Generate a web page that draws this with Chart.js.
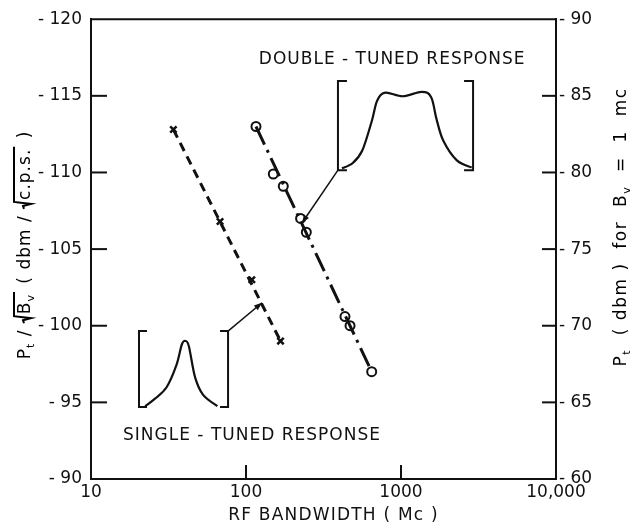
<!DOCTYPE html>
<html>
<head>
<meta charset="utf-8">
<script src="https://cdn.jsdelivr.net/npm/chart.js@4.4.0/dist/chart.umd.min.js"></script>
<style>
  body { margin: 0; background: #fff; }
  #wrap { width: 630px; height: 530px; }
</style>
</head>
<body>
<div id="wrap"><canvas id="myChart" width="630" height="530"></canvas></div>
<script>
// single-tuned receiver, measured points (x markers)
var singleBw = [34, 68, 109, 167];
var singleP = [-112.8, -106.8, -103.0, -99.0];

// double-tuned receiver, measured points (circles)
var doubleBw = [116, 150, 174, 225, 245, 435, 469, 647];
var doubleP = [-113.0, -109.9, -109.1, -107.0, -106.1, -100.6, -100.0, -97.0];

var xTicks = [10, 100, 1000, 10000];
var xTickLabels = ['10', '100', '1000', '10,000'];
var leftTicks = [-120, -115, -110, -105, -100, -95, -90];
var rightTicks = [-90, -85, -80, -75, -70, -65, -60];

var ink = '#111';
var fam = '"DejaVu Sans", sans-serif';

function pts(xs, ys) {
  return xs.map(function (x, i) { return {x: x, y: ys[i]}; });
}
// straight line drawn from first to last measured point
function ends(xs, ys) {
  var n = xs.length - 1;
  return [{x: xs[0], y: ys[0]}, {x: xs[n], y: ys[n]}];
}

// little response sketches, u/v are fractions of the bracket box
var insets = [
  {
    box: {x0: 20.4, x1: 76.6, top: -99.65, bottom: -94.7},
    curve: [[0.07, 0.01], [0.18, 0.11], [0.31, 0.26], [0.42, 0.55], [0.48, 0.82], [0.52, 0.87],
            [0.56, 0.8], [0.63, 0.39], [0.72, 0.16], [0.88, 0.01]],
    leaderFrom: 'rightTop', leaderTo: {x: 126.8, y: -101.5}
  },
  {
    box: {x0: 392, x1: 2917, top: -115.96, bottom: -110.15},
    curve: [[0.03, 0.02], [0.11, 0.08], [0.18, 0.22], [0.25, 0.55], [0.29, 0.78], [0.35, 0.87],
            [0.48, 0.83], [0.62, 0.88], [0.69, 0.82], [0.73, 0.57], [0.78, 0.33], [0.88, 0.11], [0.99, 0.03]],
    leaderFrom: 'leftBottom', leaderTo: {x: 229.7, y: -106.7}
  }
];

var captions = [
  {text: 'DOUBLE - TUNED RESPONSE', x: 121, y: -117.1},
  {text: 'SINGLE - TUNED RESPONSE', x: 16.1, y: -92.54}
];

var leftTitle = [
  {t: 'P'}, {t: 't', sub: true}, {t: ' / '},
  {rad: [{t: 'B'}, {t: 'v', sub: true}]},
  {t: ' ( dbm / '},
  {rad: [{t: 'c.p.s.'}]},
  {t: ' )'}
];
var rightTitle = [
  {t: 'P'}, {t: 't', sub: true}, {t: '  ( dbm )  for  B'}, {t: 'v', sub: true}, {t: '  =  1  mc'}
];

function smoothPath(ctx, p) {
  ctx.moveTo(p[0][0], p[0][1]);
  for (var i = 0; i < p.length - 1; i++) {
    var a = p[i - 1] || p[i], b = p[i], c = p[i + 1], d = p[i + 2] || c;
    ctx.bezierCurveTo(b[0] + (c[0] - a[0]) / 6, b[1] + (c[1] - a[1]) / 6,
                      c[0] - (d[0] - b[0]) / 6, c[1] - (d[1] - b[1]) / 6, c[0], c[1]);
  }
}

function line(ctx, x0, y0, x1, y1) {
  ctx.beginPath();
  ctx.moveTo(x0, y0);
  ctx.lineTo(x1, y1);
  ctx.stroke();
}

function arrow(ctx, x0, y0, x1, y1) {
  line(ctx, x0, y0, x1, y1);
  var ang = Math.atan2(y1 - y0, x1 - x0);
  ctx.beginPath();
  ctx.moveTo(x1, y1);
  ctx.lineTo(x1 - 8 * Math.cos(ang) + 3 * Math.sin(ang), y1 - 8 * Math.sin(ang) - 3 * Math.cos(ang));
  ctx.lineTo(x1 - 8 * Math.cos(ang) - 3 * Math.sin(ang), y1 - 8 * Math.sin(ang) + 3 * Math.cos(ang));
  ctx.closePath();
  ctx.fill();
}

// text with subscripts and radicals, returns end x
function rich(ctx, parts, x, y, draw) {
  var cx = x;
  parts.forEach(function (p) {
    if (p.rad) {
      var x0 = cx;
      cx = rich(ctx, p.rad, cx + 9, y, draw) + 2;
      if (draw) {
        var top = y - 16;
        ctx.lineWidth = 2;
        ctx.beginPath();
        ctx.moveTo(x0, y - 6);
        ctx.lineTo(x0 + 3, y - 7);
        ctx.lineTo(x0 + 5, y + 1);
        ctx.lineTo(x0 + 7, top);
        ctx.lineTo(cx, top);
        ctx.stroke();
      }
      cx += 2;
    } else {
      ctx.font = (p.sub ? '11px ' : '17px ') + fam;
      if (draw) ctx.fillText(p.t, cx, y + (p.sub ? 4 : 0));
      cx += ctx.measureText(p.t).width;
    }
  });
  return cx;
}

function verticalTitle(ctx, parts, baseX, midY, spacing) {
  ctx.save();
  ctx.letterSpacing = spacing + 'px';
  ctx.textAlign = 'left';
  ctx.textBaseline = 'alphabetic';
  var w = rich(ctx, parts, 0, 0, false);
  ctx.translate(baseX, midY);
  ctx.rotate(-Math.PI / 2);
  rich(ctx, parts, -w / 2, 0, true);
  ctx.restore();
}

var extras = {
  id: 'extras',
  afterDraw: function (chart) {
    var ctx = chart.ctx, area = chart.chartArea;
    var sx = chart.scales.x, sy = chart.scales.y, sy2 = chart.scales.y2;
    ctx.save();
    ctx.strokeStyle = ink;
    ctx.fillStyle = ink;
    ctx.lineWidth = 2;

    // top frame edge
    line(ctx, area.left, area.top, area.right, area.top);

    // inward tick marks
    leftTicks.slice(1, -1).forEach(function (v) {
      var py = sy.getPixelForValue(v);
      line(ctx, area.left, py, area.left + 16, py);
    });
    rightTicks.slice(1, -1).forEach(function (v) {
      var py = sy2.getPixelForValue(v);
      line(ctx, area.right - 14, py, area.right, py);
    });
    xTicks.slice(1, -1).forEach(function (v) {
      var px = sx.getPixelForValue(v);
      line(ctx, px, area.bottom, px, area.bottom - 14);
    });

    // bracketed response sketches with leaders
    insets.forEach(function (ins) {
      var b = ins.box;
      var L = sx.getPixelForValue(b.x0), R = sx.getPixelForValue(b.x1);
      var T = sy.getPixelForValue(b.top), B = sy.getPixelForValue(b.bottom);
      var serif = Math.min(9, (R - L) * 0.09);
      ctx.lineWidth = 2;
      ctx.beginPath();
      ctx.moveTo(L + serif, T); ctx.lineTo(L, T); ctx.lineTo(L, B); ctx.lineTo(L + serif, B);
      ctx.moveTo(R - serif, T); ctx.lineTo(R, T); ctx.lineTo(R, B); ctx.lineTo(R - serif, B);
      ctx.stroke();

      var p = ins.curve.map(function (c) {
        return [L + c[0] * (R - L), B - c[1] * (B - T)];
      });
      ctx.lineWidth = 2.2;
      ctx.beginPath();
      smoothPath(ctx, p);
      ctx.stroke();

      var fx = ins.leaderFrom === 'rightTop' ? R : L;
      var fy = ins.leaderFrom === 'rightTop' ? T : B;
      ctx.lineWidth = 1.5;
      arrow(ctx, fx, fy, sx.getPixelForValue(ins.leaderTo.x), sy.getPixelForValue(ins.leaderTo.y));
    });

    // captions
    ctx.font = '17px ' + fam;
    ctx.letterSpacing = '1px';
    ctx.textAlign = 'left';
    ctx.textBaseline = 'alphabetic';
    captions.forEach(function (c) {
      ctx.fillText(c.text, sx.getPixelForValue(c.x), sy.getPixelForValue(c.y));
    });

    // x axis title
    ctx.textAlign = 'center';
    ctx.letterSpacing = '1.2px';
    ctx.fillText('RF BANDWIDTH ( Mc )', (area.left + area.right) / 2 + 10, 520);
    ctx.letterSpacing = '0px';
    ctx.restore();

    verticalTitle(ctx, leftTitle, 30, 245, 1);
    verticalTitle(ctx, rightTitle, 626, 227, 1.5);
  }
};

new Chart(document.getElementById('myChart'), {
  type: 'scatter',
  data: {
    datasets: [
      {
        data: ends(singleBw, singleP),
        showLine: true,
        borderColor: ink,
        borderWidth: 3,
        borderDash: [9, 6],
        pointRadius: 0
      },
      {
        data: pts(singleBw, singleP),
        pointStyle: 'crossRot',
        pointRadius: 4.5,
        borderColor: ink,
        borderWidth: 2.5
      },
      {
        data: ends(doubleBw, doubleP),
        showLine: true,
        borderColor: ink,
        borderWidth: 3,
        borderDash: [20, 6, 3, 6],
        pointRadius: 0
      },
      {
        data: pts(doubleBw, doubleP),
        pointStyle: 'circle',
        pointRadius: 4.5,
        backgroundColor: '#fff',
        borderColor: ink,
        borderWidth: 2
      }
    ]
  },
  options: {
    responsive: false,
    animation: false,
    events: [],
    layout: { padding: { top: 19, left: 0, right: 0, bottom: 0 } },
    plugins: {
      legend: { display: false },
      tooltip: { enabled: false }
    },
    scales: {
      x: {
        type: 'logarithmic',
        min: 10,
        max: 10000,
        afterBuildTicks: function (scale) {
          scale.ticks = xTicks.map(function (v) { return {value: v}; });
        },
        afterFit: function (scale) { scale.height = 51; },
        grid: { display: false, drawTicks: false },
        border: { display: true, color: ink, width: 2 },
        ticks: {
          color: ink,
          padding: 3,
          maxRotation: 0,
          autoSkip: false,
          font: { family: fam, size: 17 },
          callback: function (v) {
            var i = xTicks.indexOf(v);
            return i < 0 ? '' : xTickLabels[i];
          }
        }
      },
      y: {
        position: 'left',
        min: -120,
        max: -90,
        reverse: true,
        afterBuildTicks: function (scale) {
          scale.ticks = leftTicks.map(function (v) { return {value: v}; });
        },
        afterFit: function (scale) { scale.width = 91; },
        grid: { display: false, drawTicks: false },
        border: { display: true, color: ink, width: 2 },
        ticks: {
          color: ink,
          padding: 9,
          font: { family: fam, size: 17 },
          callback: function (v) { return '- ' + Math.abs(v); }
        }
      },
      y2: {
        position: 'right',
        min: -90,
        max: -60,
        reverse: true,
        afterBuildTicks: function (scale) {
          scale.ticks = rightTicks.map(function (v) { return {value: v}; });
        },
        afterFit: function (scale) { scale.width = 74; },
        grid: { display: false, drawTicks: false },
        border: { display: true, color: ink, width: 2 },
        ticks: {
          color: ink,
          padding: 3,
          font: { family: fam, size: 17 },
          callback: function (v) { return '- ' + Math.abs(v); }
        }
      }
    }
  },
  plugins: [extras]
});
</script>
</body>
</html>
